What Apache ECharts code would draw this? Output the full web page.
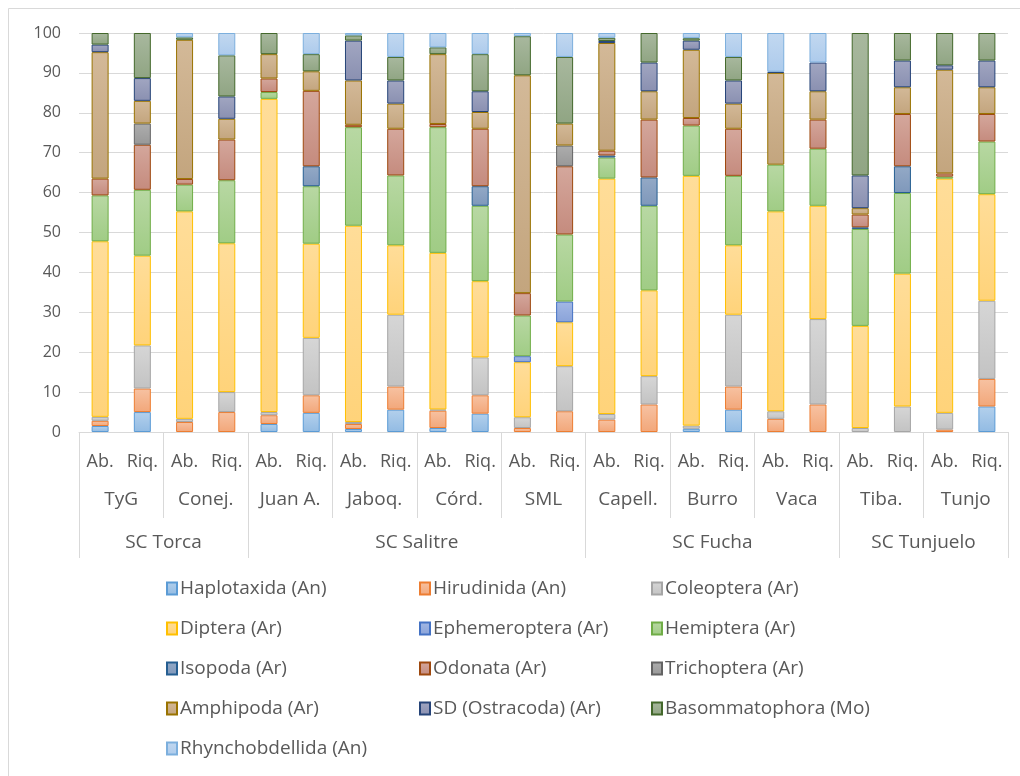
<!DOCTYPE html>
<html>
<head>
<meta charset="utf-8">
<script src="https://cdn.jsdelivr.net/npm/echarts@6/dist/echarts.min.js"></script>
<style>
  html, body { margin: 0; padding: 0; background: #fff; }
  #chart { width: 1020px; height: 776px; }
</style>
</head>
<body>
<div id="chart"></div>
<script>
// categorias del eje (Ab. = abundancia, Riq. = riqueza)
var categories = ['Ab.', 'Riq.', 'Ab.', 'Riq.', 'Ab.', 'Riq.', 'Ab.', 'Riq.', 'Ab.', 'Riq.', 'Ab.',
                  'Riq.', 'Ab.', 'Riq.', 'Ab.', 'Riq.', 'Ab.', 'Riq.', 'Ab.', 'Riq.', 'Ab.', 'Riq.'];
var sites = ['TyG', 'Conej.', 'Juan A.', 'Jaboq.', 'Córd.', 'SML', 'Capell.', 'Burro', 'Vaca', 'Tiba.', 'Tunjo'];
var basins = ['SC Torca', 'SC Salitre', 'SC Fucha', 'SC Tunjuelo'];
var sitesPerBasin = [2, 4, 3, 2];
var yTicks = [0, 100, 10];

var taxa = ['Haplotaxida (An)', 'Hirudinida (An)', 'Coleoptera (Ar)', 'Diptera (Ar)', 'Ephemeroptera (Ar)',
            'Hemiptera (Ar)', 'Isopoda (Ar)', 'Odonata (Ar)', 'Trichoptera (Ar)', 'Amphipoda (Ar)',
            'SD (Ostracoda) (Ar)', 'Basommatophora (Mo)', 'Rhynchobdellida (An)'];

var haplotaxida = [1.5, 5.0, 0, 0, 2.0, 4.8, 0.75, 5.6, 1.0, 4.6, 0, 0, 0, 0, 0.8, 5.6, 0, 0, 0, 0, 0, 6.4];
var hirudinida = [1.3, 5.9, 2.5, 5.0, 2.2, 4.4, 1.25, 5.8, 4.35, 4.6, 1.0, 5.2, 3.1, 6.9, 0, 5.8, 3.3, 6.9, 0, 0, 0.6, 6.9];
var coleoptera = [1.0, 10.8, 0.8, 5.0, 0.8, 14.4, 0.5, 18.0, 0.3, 9.5, 2.7, 11.3, 1.4, 7.1, 0.8, 18.0, 1.9, 21.4, 1.0, 6.4, 4.2, 19.6];
var diptera = [44.0, 22.5, 52.0, 37.3, 78.5, 23.6, 49.2, 17.4, 39.25, 19.1, 13.8, 11.0, 59.0, 21.5, 62.6, 17.4, 50.1, 28.4, 25.6, 33.3, 58.7, 26.7];
var ephemeroptera = [0, 0, 0, 0, 0, 0, 0, 0, 0, 0, 1.5, 5.2, 0, 0, 0, 0, 0, 0, 0, 0, 0, 0];
var hemiptera = [11.5, 16.5, 6.7, 15.8, 1.7, 14.4, 24.7, 17.5, 31.5, 18.9, 10.2, 16.8, 5.3, 21.2, 12.6, 17.4, 11.7, 14.3, 24.3, 20.2, 0.5, 13.2];
var isopoda = [0, 0, 0, 0, 0, 5.0, 0, 0, 0, 4.9, 0, 0, 0.5, 7.1, 0, 0, 0, 0, 0.4, 6.7, 0, 0];
var odonata = [4.2, 11.3, 1.4, 10.2, 3.4, 18.9, 0.6, 11.7, 0.8, 14.4, 5.6, 17.1, 1.2, 14.5, 1.9, 11.8, 0, 7.3, 3.2, 13.1, 0.8, 6.9];
var trichoptera = [0, 5.3, 0, 0, 0, 0, 0, 0, 0, 0, 0, 5.2, 0, 0, 0, 0, 0, 0, 0, 0, 0, 0];
var amphipoda = [31.7, 5.7, 34.9, 5.2, 6.1, 4.9, 11.1, 6.3, 17.5, 4.2, 54.6, 5.5, 27.0, 7.1, 17.1, 6.3, 23.0, 7.1, 1.6, 6.7, 26.0, 6.7];
var ostracoda = [1.9, 5.7, 0, 5.6, 0, 0, 10.0, 5.8, 0, 5.2, 0, 0, 0.5, 7.2, 2.3, 5.8, 0.3, 7.2, 8.2, 6.7, 1.1, 6.7];
var basommatophora = [2.9, 11.3, 0.6, 10.3, 5.3, 4.3, 1.3, 5.9, 1.7, 9.3, 9.8, 16.7, 0.8, 7.4, 0.6, 5.9, 0, 0, 35.7, 6.9, 8.1, 6.9];
var rhynchobdellida = [0, 0, 1.1, 5.6, 0, 5.3, 0.6, 6.0, 3.6, 5.3, 0.8, 6.0, 1.2, 0, 1.3, 6.0, 9.7, 7.4, 0, 0, 0, 0];

var values = [haplotaxida, hirudinida, coleoptera, diptera, ephemeroptera, hemiptera, isopoda,
              odonata, trichoptera, amphipoda, ostracoda, basommatophora, rhynchobdellida];

// [arriba, abajo, borde]
var palette = [
    ['#B3D0EC', '#92BBE3', '#5B9BD5'],
    ['#F7C2A2', '#F2A77A', '#ED7D31'],
    ['#D6D6D6', '#C3C3C3', '#A5A5A5'],
    ['#FFDD99', '#FFD37A', '#FFC000'],
    ['#A3B8E4', '#8AA3D9', '#4472C4'],
    ['#B8D8A3', '#A0CC85', '#70AD47'],
    ['#93A9C6', '#7F98BB', '#255E91'],
    ['#D4A79C', '#C58B7E', '#9E480E'],
    ['#ADADAD', '#989898', '#636363'],
    ['#D3B998', '#C3A57E', '#997300'],
    ['#A1A6C1', '#8A90B1', '#264478'],
    ['#A8B89E', '#90A583', '#43682B'],
    ['#C2D8F0', '#ADCBEC', '#7CAFDD']
];

var font = '"Open Sans", "Noto Sans", sans-serif';
var grey = '#595959';
var lineGrey = '#D9D9D9';

// limites de las subcuencas en numero de barras
var basinEdges = [0];
var basinMids = [];
sitesPerBasin.forEach(function (n) {
    var start = basinEdges[basinEdges.length - 1];
    basinEdges.push(start + n * 2);
    basinMids.push(start + n);
});

var series = taxa.map(function (name, i) {
    return {
        name: name,
        type: 'bar',
        stack: 'total',
        barWidth: 17,
        itemStyle: {
            color: new echarts.graphic.LinearGradient(0, 0, 0, 1, [
                { offset: 0, color: palette[i][0] },
                { offset: 1, color: palette[i][1] }
            ]),
            borderColor: palette[i][2],
            borderWidth: 1
        },
        data: values[i].map(function (v) { return v === 0 ? null : v; })
    };
});

function legendCol(names, left) {
    return {
        orient: 'vertical',
        left: left,
        top: 574,
        itemWidth: 10,
        itemHeight: 12,
        itemGap: 21,
        icon: 'rect',
        selectedMode: false,
        textStyle: { fontFamily: font, fontSize: 19, color: grey, padding: [0, 0, 0, -2] },
        data: names
    };
}

var myChart = echarts.init(document.getElementById('chart'));
var option = {
    animation: false,
    backgroundColor: '#fff',
    graphic: [{
        type: 'rect',
        shape: { x: 8.5, y: 8.5, width: 1100, height: 900 },
        style: { fill: 'none', stroke: lineGrey, lineWidth: 1 },
        silent: true
    }],
    legend: [
        legendCol([taxa[0], taxa[3], taxa[6], taxa[9], taxa[12]], 161),
        legendCol([taxa[1], taxa[4], taxa[7], taxa[10]], 414),
        legendCol([taxa[2], taxa[5], taxa[8], taxa[11]], 646)
    ],
    grid: { left: 79, right: 12, top: 33, height: 399 },
    xAxis: [
        {
            type: 'category',
            data: categories,
            axisLine: { lineStyle: { color: lineGrey } },
            axisTick: { show: false },
            axisLabel: { interval: 0, margin: 21, fontFamily: font, fontSize: 18, color: grey }
        },
        {
            type: 'category',
            data: sites,
            position: 'bottom',
            axisLine: { show: false },
            axisTick: { show: true, interval: 0, length: 86, lineStyle: { color: lineGrey } },
            axisLabel: { interval: 0, margin: 58, fontFamily: font, fontSize: 19, color: grey }
        },
        {
            type: 'value',
            min: 0,
            max: categories.length,
            position: 'bottom',
            axisLine: { show: false },
            splitLine: { show: false },
            axisTick: { show: true, customValues: basinEdges, length: 126, lineStyle: { color: lineGrey } },
            axisLabel: {
                customValues: basinMids,
                margin: 101,
                fontFamily: font, fontSize: 19, color: grey,
                formatter: function (v) { return basins[basinMids.indexOf(v)]; }
            }
        }
    ],
    yAxis: {
        type: 'value',
        min: yTicks[0],
        max: yTicks[1],
        interval: yTicks[2],
        axisLine: { show: false },
        axisTick: { show: false },
        axisLabel: { margin: 18, fontFamily: font, fontSize: 16, color: grey },
        splitLine: { lineStyle: { color: lineGrey } }
    },
    series: series
};

// dibujar
myChart.setOption(option);
</script>
</body>
</html>
